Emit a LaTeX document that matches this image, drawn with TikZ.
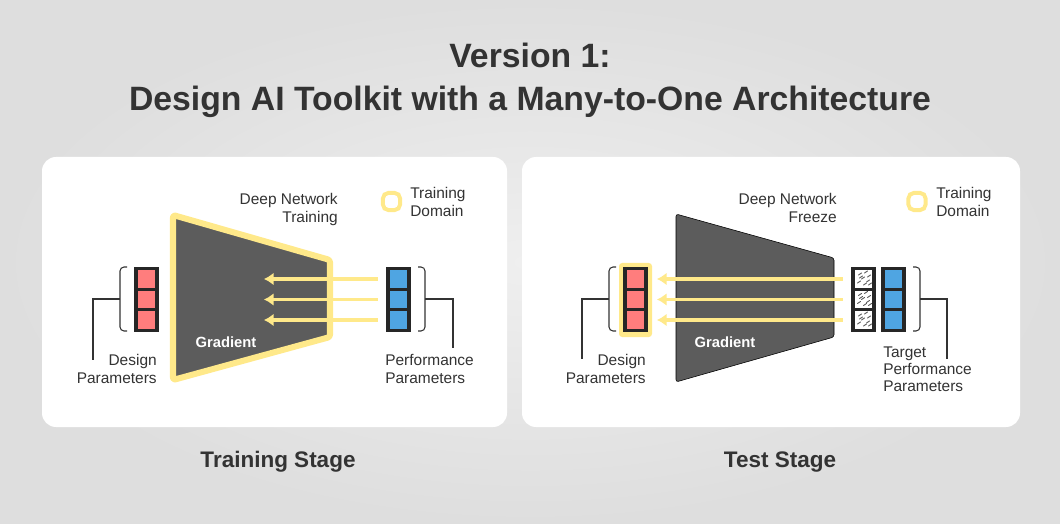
\documentclass[tikz,border=0pt]{standalone}
\usepackage{fontspec}
\setmainfont{Liberation Sans}
\usetikzlibrary{arrows.meta,positioning}
\definecolor{bgcenter}{HTML}{EFEFEF}
\definecolor{bgedge}{HTML}{DEDEDE}
\definecolor{inkgray}{HTML}{333333}
\definecolor{netgray}{HTML}{5C5C5C}
\definecolor{domyellow}{HTML}{FFE98A}
\definecolor{cellred}{HTML}{FF7D7D}
\definecolor{cellblue}{HTML}{4FA5E2}
\definecolor{framedark}{HTML}{262626}

\begin{document}
\begin{tikzpicture}[x=0.025cm, y=-0.025cm, every node/.style={inner sep=0pt,text=inkgray}, title/.style={font=\bfseries\fontsize{24}{30.6}\selectfont,align=center}, stage/.style={font=\bfseries\fontsize{16}{19}\selectfont}, lbl/.style={font=\fontsize{11}{12.2}\selectfont}, grad/.style={font=\bfseries\fontsize{10.5}{12}\selectfont,text=white}, panel/.style={fill=white,rounded corners=3.5mm}, net/.style={fill=netgray,line join=round,rounded corners=0.6mm}, stackframe/.style={fill=framedark,minimum width=6.25mm,minimum height=16.25mm}, cellr/.style={fill=cellred,minimum size=4.25mm}, cellb/.style={fill=cellblue,minimum size=4.25mm}, cellw/.style={fill=white,minimum size=4.25mm}, scratch/.style={draw=black!65,line width=0.6pt,line cap=round}, highlight/.style={fill=domyellow,minimum width=8.25mm,minimum height=18.5mm,rounded corners=0.8mm}, legendbox/.style={draw=domyellow,line width=2.8pt,minimum size=4.3mm,rounded corners=1.4mm}, brack/.style={draw=inkgray,line width=0.75pt,rounded corners=1mm}, lead/.style={draw=inkgray,line width=0.75pt}, garrow/.style={-{Latex[length=2.4mm,width=3.2mm]},draw=domyellow,line width=2.6pt}]
\shade[inner color=bgcenter,outer color=bgedge] (0,0) rectangle (1060,524);
\useasboundingbox (0,0) rectangle (1060,524);
\node[title,anchor=north] (ttl) at (530,43) {Version 1:\\Design AI Toolkit with a Many-to-One Architecture};
\fill[panel] (42,157) rectangle (507,427);
\fill[panel] (522,157) rectangle (1020,427);
\node[stage,anchor=base] (trs) at (278,468) {Training Stage};
\node[stage,anchor=base] (tss) at (780,468) {Test Stage};
% training stage
\draw[net,draw=domyellow,line width=4.3pt] (173,215) -- (330,260) -- (330,337) -- (173,380) -- cycle;
\node[grad,anchor=base] (gr1) at (226,347.5) {Gradient};
\node[lbl,align=right,anchor=north east] (dn1) at (338,193.5) {Deep Network\\Training};
\node[legendbox] (lg1) at (391.5,201.5) {};
\node[lbl,align=left,anchor=north west] (lgt1) at (410,187.5) {Training\\Domain};
\node[stackframe] (dps1) at (146.5,299.5) {};
\node[stackframe] (pps1) at (398.5,299.5) {};
\foreach \y [count=\i] in {279,299.5,320} {
  \node[cellr] (dp\i) at (146.5,\y) {};
  \node[cellb] (pp\i) at (398.5,\y) {};
  \coordinate (tip\i) at (264,\y);
  \draw[garrow,shorten <=3mm] (pp\i) -- (tip\i);
}
\draw[brack] (127,267) -- (120,267) -- (120,331) -- (127,331);
\draw[brack] (418,267) -- (425,267) -- (425,331) -- (418,331);
\coordinate (lb1) at (120,299);
\coordinate (le1) at (93,360);
\coordinate (rb1) at (425,299);
\coordinate (re1) at (453,348);
\draw[lead] (lb1) -| (le1);
\draw[lead] (rb1) -| (re1);
\node[lbl,align=right,anchor=north east] (dpl1) at (157,354.5) {Design\\Parameters};
\node[lbl,align=left,anchor=north west] (ppl1) at (385,354.5) {Performance\\Parameters};
% test stage
\draw[net] (676,214) -- (834,258) -- (834,337) -- (676,382) -- cycle;
\node[grad,anchor=base] (gr2) at (725,347.5) {Gradient};
\node[lbl,align=right,anchor=north east] (dn2) at (837,193.5) {Deep Network\\Freeze};
\node[legendbox] (lg2) at (917,201.5) {};
\node[lbl,align=left,anchor=north west] (lgt2) at (936,187.5) {Training\\Domain};
\node[highlight] (hl) at (635.5,300) {};
\node[stackframe] (dqs) at (635.5,299.5) {};
\node[stackframe] (hqs) at (863.5,299.5) {};
\node[stackframe] (bqs) at (893.5,299.5) {};
\foreach \y [count=\i] in {279,299.5,320} {
  \node[cellr] (dq\i) at (635.5,\y) {};
  \node[cellw] (hq\i) at (863.5,\y) {};
  \node[cellb] (bq\i) at (893.5,\y) {};
  \foreach \dx/\dy in {-5/-4,1/-6,4/-2,-2/0,3/3,-6/4,0/6,5/6,-4/-1}
    \draw[scratch] ({863.5+(\dx)},{\y+(\dy)}) -- ++(3,-2);
  \coordinate (tipq\i) at (657,\y);
  \draw[garrow,shorten <=3mm] (hq\i) -- (tipq\i);
}
\draw[brack] (616,267) -- (609,267) -- (609,331) -- (616,331);
\draw[brack] (913,267) -- (920,267) -- (920,331) -- (913,331);
\coordinate (lb2) at (609,299);
\coordinate (le2) at (582,359);
\coordinate (rb2) at (920,299);
\coordinate (re2) at (947,359);
\draw[lead] (lb2) -| (le2);
\draw[lead] (rb2) -| (re2);
\node[lbl,align=right,anchor=north east] (dpl2) at (646,354.5) {Design\\Parameters};
\node[lbl,align=left,anchor=north west] (tpl2) at (883,346.5) {Target\\Performance\\Parameters};
\end{tikzpicture}
\end{document}
